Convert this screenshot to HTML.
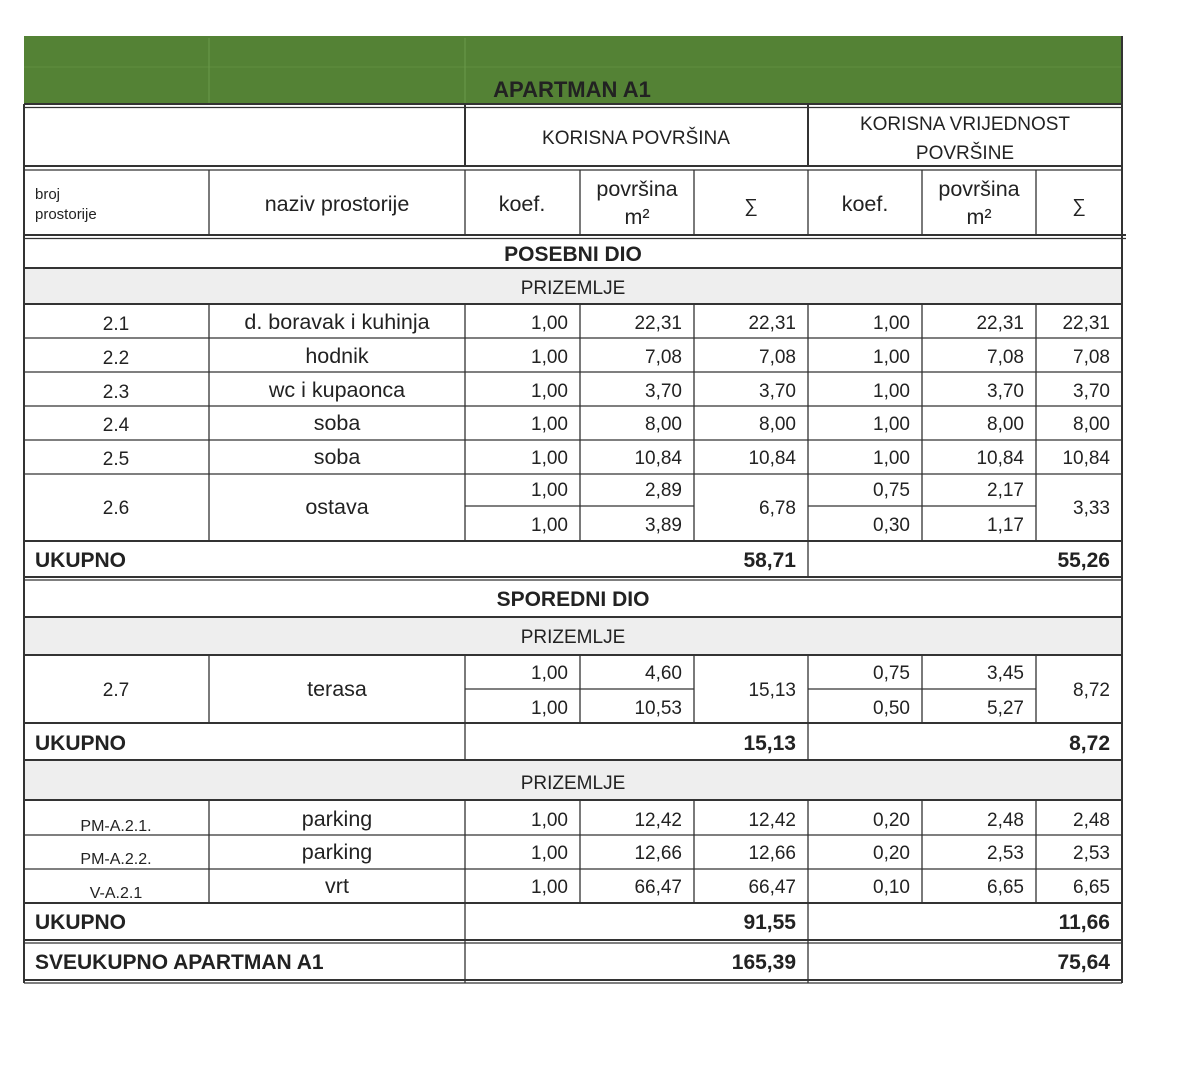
<!DOCTYPE html>
<html><head><meta charset="utf-8"><style>
html,body{margin:0;padding:0;background:#fff;width:1184px;height:1080px;overflow:hidden}
svg{display:block}
text{font-family:"Liberation Sans",sans-serif;fill:#222}
.n{font-size:19px;text-anchor:end}
.c{font-size:19px;text-anchor:middle}
.nm{font-size:21.5px;text-anchor:middle}
.b{font-weight:bold;font-size:21px}
.s{font-size:15px}
</style></head><body>
<svg width="1184" height="1080" viewBox="0 0 1184 1080">
<rect x="24" y="36" width="1098" height="68" fill="#548235"/>
<g stroke="#6a9a4a" stroke-width="1"><line x1="209" y1="38" x2="209" y2="104"/><line x1="465" y1="38" x2="465" y2="104"/><line x1="24" y1="67" x2="1122" y2="67" stroke-opacity="0.5"/></g>
<text x="572" y="97" class="b" style="font-size:22px" text-anchor="middle" fill="#111">APARTMAN A1</text>
<rect x="24" y="268" width="1098" height="36" fill="#eeeeee"/>
<rect x="24" y="617" width="1098" height="38" fill="#eeeeee"/>
<rect x="24" y="760" width="1098" height="40" fill="#eeeeee"/>
<g stroke="#333" stroke-width="2" fill="none">
<line x1="24" y1="104" x2="1122" y2="104"/><line x1="24" y1="107.5" x2="1122" y2="107.5" stroke-width="1.3"/>
<line x1="24" y1="166" x2="1122" y2="166"/><line x1="24" y1="170" x2="1122" y2="170" stroke-width="1.3"/>
<line x1="24" y1="235" x2="1126" y2="235"/><line x1="24" y1="238.5" x2="1126" y2="238.5" stroke-width="1.3"/>
<line x1="24" y1="268" x2="1122" y2="268"/><line x1="24" y1="304" x2="1122" y2="304"/>
<line x1="24" y1="338" x2="1122" y2="338" stroke-width="1.3"/><line x1="24" y1="372" x2="1122" y2="372" stroke-width="1.3"/>
<line x1="24" y1="406" x2="1122" y2="406" stroke-width="1.3"/><line x1="24" y1="440" x2="1122" y2="440" stroke-width="1.3"/>
<line x1="24" y1="474" x2="1122" y2="474" stroke-width="1.3"/>
<line x1="465" y1="506" x2="694" y2="506" stroke-width="1.3"/><line x1="808" y1="506" x2="1036" y2="506" stroke-width="1.3"/>
<line x1="24" y1="541" x2="1122" y2="541"/><line x1="24" y1="577" x2="1122" y2="577"/><line x1="24" y1="580" x2="1122" y2="580" stroke-width="1.3"/>
<line x1="24" y1="617" x2="1122" y2="617"/><line x1="24" y1="655" x2="1122" y2="655"/>
<line x1="465" y1="689" x2="694" y2="689" stroke-width="1.3"/><line x1="808" y1="689" x2="1036" y2="689" stroke-width="1.3"/>
<line x1="24" y1="723" x2="1122" y2="723"/><line x1="24" y1="760" x2="1122" y2="760"/><line x1="24" y1="800" x2="1122" y2="800"/>
<line x1="24" y1="835" x2="1122" y2="835" stroke-width="1.3"/><line x1="24" y1="869" x2="1122" y2="869" stroke-width="1.3"/>
<line x1="24" y1="903" x2="1122" y2="903"/><line x1="24" y1="940" x2="1122" y2="940"/><line x1="24" y1="943" x2="1122" y2="943" stroke-width="1.3"/>
<line x1="24" y1="980" x2="1122" y2="980"/><line x1="24" y1="983" x2="1122" y2="983" stroke-width="1.3"/>
<line x1="24" y1="104" x2="24" y2="983"/><line x1="1122" y1="36" x2="1122" y2="983"/>
<line x1="465" y1="104" x2="465" y2="166"/><line x1="808" y1="104" x2="808" y2="166"/>
<path d="M209 170V236M465 170V236M580 170V236M694 170V236M808 170V236M922 170V236M1036 170V236" stroke-width="1.3"/>
<path d="M209 304V541M465 304V541M580 304V541M694 304V541M808 304V577M922 304V541M1036 304V541" stroke-width="1.3"/>
<path d="M209 655V723M465 655V760M580 655V723M694 655V723M808 655V760M922 655V723M1036 655V723" stroke-width="1.3"/>
<path d="M209 800V903M465 800V983M580 800V903M694 800V903M808 800V983M922 800V903M1036 800V903" stroke-width="1.3"/>
</g>
<text x="636" y="144" class="c">KORISNA POVRŠINA</text>
<text x="965" y="130" class="c">KORISNA VRIJEDNOST</text>
<text x="965" y="159" class="c">POVRŠINE</text>
<text x="35" y="199" class="s">broj</text><text x="35" y="219" class="s">prostorije</text>
<text x="337" y="211" class="nm">naziv prostorije</text>
<text x="522" y="211" class="nm">koef.</text><text x="865" y="211" class="nm">koef.</text>
<text x="637" y="196" class="nm">površina</text><text x="637" y="224" class="nm">m²</text>
<text x="979" y="196" class="nm">površina</text><text x="979" y="224" class="nm">m²</text>
<text x="751" y="212" class="c">∑</text><text x="1079" y="212" class="c">∑</text>
<text x="573" y="261" class="b" text-anchor="middle">POSEBNI DIO</text>
<text x="573" y="294" class="c">PRIZEMLJE</text>
<text x="116" y="330" class="c">2.1</text><text x="337" y="329" class="nm">d. boravak i kuhinja</text>
<text x="116" y="364" class="c">2.2</text><text x="337" y="363" class="nm">hodnik</text>
<text x="116" y="398" class="c">2.3</text><text x="337" y="397" class="nm">wc i kupaonca</text>
<text x="116" y="431" class="c">2.4</text><text x="337" y="430" class="nm">soba</text>
<text x="116" y="465" class="c">2.5</text><text x="337" y="464" class="nm">soba</text>
<text x="116" y="514" class="c">2.6</text><text x="337" y="514" class="nm">ostava</text>
<text x="568" y="329" class="n">1,00</text><text x="682" y="329" class="n">22,31</text><text x="796" y="329" class="n">22,31</text><text x="910" y="329" class="n">1,00</text><text x="1024" y="329" class="n">22,31</text><text x="1110" y="329" class="n">22,31</text>
<text x="568" y="363" class="n">1,00</text><text x="682" y="363" class="n">7,08</text><text x="796" y="363" class="n">7,08</text><text x="910" y="363" class="n">1,00</text><text x="1024" y="363" class="n">7,08</text><text x="1110" y="363" class="n">7,08</text>
<text x="568" y="397" class="n">1,00</text><text x="682" y="397" class="n">3,70</text><text x="796" y="397" class="n">3,70</text><text x="910" y="397" class="n">1,00</text><text x="1024" y="397" class="n">3,70</text><text x="1110" y="397" class="n">3,70</text>
<text x="568" y="430" class="n">1,00</text><text x="682" y="430" class="n">8,00</text><text x="796" y="430" class="n">8,00</text><text x="910" y="430" class="n">1,00</text><text x="1024" y="430" class="n">8,00</text><text x="1110" y="430" class="n">8,00</text>
<text x="568" y="464" class="n">1,00</text><text x="682" y="464" class="n">10,84</text><text x="796" y="464" class="n">10,84</text><text x="910" y="464" class="n">1,00</text><text x="1024" y="464" class="n">10,84</text><text x="1110" y="464" class="n">10,84</text>
<text x="568" y="496" class="n">1,00</text><text x="682" y="496" class="n">2,89</text><text x="910" y="496" class="n">0,75</text><text x="1024" y="496" class="n">2,17</text>
<text x="796" y="514" class="n">6,78</text><text x="1110" y="514" class="n">3,33</text>
<text x="568" y="531" class="n">1,00</text><text x="682" y="531" class="n">3,89</text><text x="910" y="531" class="n">0,30</text><text x="1024" y="531" class="n">1,17</text>
<text x="35" y="567" class="b">UKUPNO</text><text x="796" y="567" class="b" text-anchor="end">58,71</text><text x="1110" y="567" class="b" text-anchor="end">55,26</text>
<text x="573" y="606" class="b" text-anchor="middle">SPOREDNI DIO</text>
<text x="573" y="643" class="c">PRIZEMLJE</text>
<text x="116" y="696" class="c">2.7</text><text x="337" y="696" class="nm">terasa</text>
<text x="568" y="679" class="n">1,00</text><text x="682" y="679" class="n">4,60</text><text x="910" y="679" class="n">0,75</text><text x="1024" y="679" class="n">3,45</text>
<text x="796" y="696" class="n">15,13</text><text x="1110" y="696" class="n">8,72</text>
<text x="568" y="714" class="n">1,00</text><text x="682" y="714" class="n">10,53</text><text x="910" y="714" class="n">0,50</text><text x="1024" y="714" class="n">5,27</text>
<text x="35" y="750" class="b">UKUPNO</text><text x="796" y="750" class="b" text-anchor="end">15,13</text><text x="1110" y="750" class="b" text-anchor="end">8,72</text>
<text x="573" y="789" class="c">PRIZEMLJE</text>
<text x="116" y="831" class="c" style="font-size:16px">PM-A.2.1.</text><text x="337" y="826" class="nm">parking</text>
<text x="116" y="864" class="c" style="font-size:16px">PM-A.2.2.</text><text x="337" y="859" class="nm">parking</text>
<text x="116" y="898" class="c" style="font-size:16px">V-A.2.1</text><text x="337" y="893" class="nm">vrt</text>
<text x="568" y="826" class="n">1,00</text><text x="682" y="826" class="n">12,42</text><text x="796" y="826" class="n">12,42</text><text x="910" y="826" class="n">0,20</text><text x="1024" y="826" class="n">2,48</text><text x="1110" y="826" class="n">2,48</text>
<text x="568" y="859" class="n">1,00</text><text x="682" y="859" class="n">12,66</text><text x="796" y="859" class="n">12,66</text><text x="910" y="859" class="n">0,20</text><text x="1024" y="859" class="n">2,53</text><text x="1110" y="859" class="n">2,53</text>
<text x="568" y="893" class="n">1,00</text><text x="682" y="893" class="n">66,47</text><text x="796" y="893" class="n">66,47</text><text x="910" y="893" class="n">0,10</text><text x="1024" y="893" class="n">6,65</text><text x="1110" y="893" class="n">6,65</text>
<text x="35" y="929" class="b">UKUPNO</text><text x="796" y="929" class="b" text-anchor="end">91,55</text><text x="1110" y="929" class="b" text-anchor="end">11,66</text>
<text x="35" y="969" class="b">SVEUKUPNO APARTMAN A1</text><text x="796" y="969" class="b" text-anchor="end">165,39</text><text x="1110" y="969" class="b" text-anchor="end">75,64</text>
</svg>
</body></html>
